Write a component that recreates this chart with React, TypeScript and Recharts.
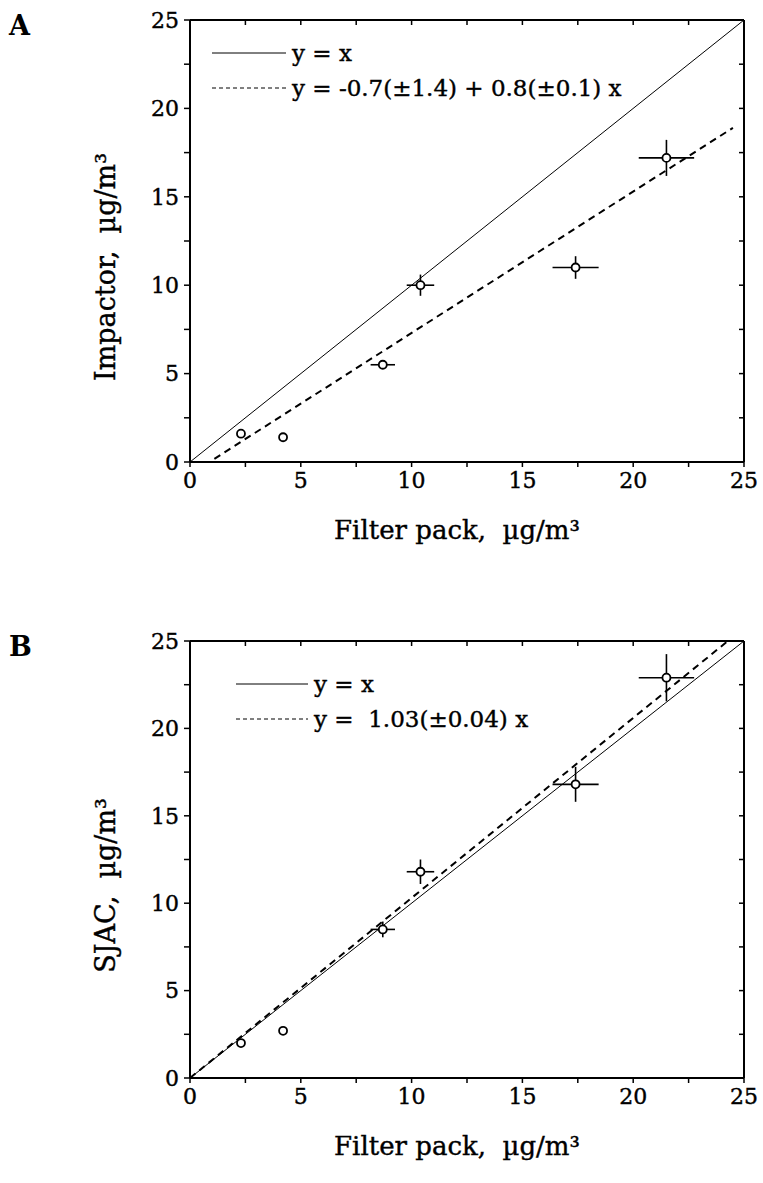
import {
  ScatterChart,
  Scatter,
  XAxis,
  YAxis,
  ErrorBar,
  Legend,
  Label,
  Customized,
} from "recharts";

// values (x = filter pack, shared by both panels)
const filterPack = [2.3, 4.2, 8.7, 10.4, 17.4, 21.5];
const filterPackErr = [0, 0, 0.55, 0.62, 1.04, 1.25];
const impactor = [1.6, 1.4, 5.5, 10.0, 11.0, 17.2];
const impactorErr = [0, 0, 0, 0.6, 0.64, 1.02];
const sjac = [2.0, 2.7, 8.5, 11.8, 16.8, 22.9];
const sjacErr = [0, 0, 0.45, 0.7, 1.0, 1.35];

const axisTicks = [0, 2.5, 5, 7.5, 10, 12.5, 15, 17.5, 20, 22.5, 25];
const tickLabels = ["0", "", "5", "", "10", "", "15", "", "20", "", "25"];

// regression lines as printed in the legends
const fitA = { intercept: -0.7, slope: 0.8, from: 1.1, to: 24.5 };
const fitB = { intercept: 0, slope: 1.03, from: 0, to: 24.27 };

const FONT = "DejaVu Serif";
const W = 763;

const fmtTick = (v: number) => tickLabels[axisTicks.indexOf(v)] ?? "";

const Ring = (p: any) => (
  <circle cx={p.cx} cy={p.cy} r={4} fill="#fff" stroke="#000" strokeWidth={1.8} />
);
const NoDot = () => <g />;

function Panel(props: {
  letter: string;
  yTitle: string;
  yValues: number[];
  yErrors: number[];
  fit: { intercept: number; slope: number; from: number; to: number };
  fitText: string;
  height: number;
  top: number;
  bottom: number;
  legendLeft: number;
  legendTop: number;
  sampleWidth: number;
}) {
  const { fit } = props;
  const points = filterPack.map((x, i) => ({
    x,
    y: props.yValues[i],
    ex: filterPackErr[i],
    ey: props.yErrors[i],
  }));
  const identity = [
    { x: 0, y: 0 },
    { x: 25, y: 25 },
  ];
  const fitLine = [fit.from, fit.to].map((x) => ({ x, y: fit.intercept + fit.slope * x }));

  const legendItems = [
    { text: "y = x", dash: undefined },
    { text: props.fitText, dash: "4 3" },
  ];

  const axisLine = { stroke: "#000", strokeWidth: 2 };
  const tickLine = { stroke: "#000", strokeWidth: 1.5 };
  const tick = { fill: "#000", fontSize: 22, fontFamily: FONT, stroke: "#000", strokeWidth: 0.4 };

  return (
    <ScatterChart
      width={W}
      height={props.height}
      margin={{ top: props.top - 1, right: 19, bottom: 0, left: 0 }}
    >
      <XAxis
        xAxisId="b"
        type="number"
        dataKey="x"
        domain={[0, 25]}
        ticks={axisTicks}
        tickFormatter={fmtTick}
        interval={0}
        height={props.bottom}
        axisLine={axisLine}
        tickLine={tickLine}
        tickSize={5}
        tickMargin={5}
        tick={tick}
      >
        <Label
          content={(lp: any) => {
            const vb = lp.viewBox;
            return (
              <text
                x={vb.x + vb.width / 2 - 10}
                y={vb.y + 68}
                textAnchor="middle"
                dominantBaseline="central"
                fontFamily={FONT}
                fontSize={26}
                fill="#000"
                stroke="#000"
                strokeWidth={0.4}
                style={{ whiteSpace: "pre" }}
              >
                {"Filter pack,  µg/m³"}
              </text>
            );
          }}
        />
      </XAxis>
      {/* frame: top and right axes with inward ticks, no labels */}
      <XAxis
        xAxisId="t"
        orientation="top"
        type="number"
        dataKey="x"
        domain={[0, 25]}
        ticks={axisTicks}
        interval={0}
        mirror
        height={1}
        axisLine={axisLine}
        tickLine={tickLine}
        tickSize={5}
        tickFormatter={() => ""}
      />
      <YAxis
        yAxisId="l"
        type="number"
        dataKey="y"
        domain={[0, 25]}
        ticks={axisTicks}
        tickFormatter={fmtTick}
        interval={0}
        width={190}
        axisLine={axisLine}
        tickLine={tickLine}
        tickSize={6}
        tickMargin={5}
        tick={tick}
      >
        <Label
          content={(lp: any) => {
            const vb = lp.viewBox;
            const cx = 105;
            const cy = vb.y + vb.height / 2 + 26;
            return (
              <text
                x={cx}
                y={cy}
                transform={`rotate(-90, ${cx}, ${cy})`}
                textAnchor="middle"
                dominantBaseline="central"
                fontFamily={FONT}
                fontSize={27}
                fill="#000"
                stroke="#000"
                strokeWidth={0.4}
                style={{ whiteSpace: "pre" }}
              >
                {props.yTitle}
              </text>
            );
          }}
        />
      </YAxis>
      <YAxis
        yAxisId="r"
        orientation="right"
        type="number"
        dataKey="y"
        domain={[0, 25]}
        ticks={axisTicks}
        interval={0}
        mirror
        width={1}
        axisLine={axisLine}
        tickLine={tickLine}
        tickSize={5}
        tickFormatter={() => ""}
      />

      {/* invisible series bound to the frame axes */}
      <Scatter
        xAxisId="t"
        yAxisId="r"
        data={identity}
        shape={NoDot}
        isAnimationActive={false}
      />
      <Scatter
        xAxisId="b"
        yAxisId="l"
        data={identity}
        line={{ stroke: "#000", strokeWidth: 1 }}
        shape={NoDot}
        isAnimationActive={false}
      />
      <Scatter
        xAxisId="b"
        yAxisId="l"
        data={fitLine}
        line={{ stroke: "#000", strokeWidth: 2, strokeDasharray: "7 5" }}
        shape={NoDot}
        isAnimationActive={false}
      />
      <Scatter
        xAxisId="b"
        yAxisId="l"
        data={points}
        shape={Ring}
        isAnimationActive={false}
      >
        <ErrorBar dataKey="ex" direction="x" width={0} stroke="#000" strokeWidth={1.6} />
        <ErrorBar dataKey="ey" direction="y" width={0} stroke="#000" strokeWidth={1.6} />
      </Scatter>

      <Legend
        layout="horizontal"
        verticalAlign="middle"
        align="center"
        wrapperStyle={{ left: props.legendLeft, top: props.legendTop, width: "auto" }}
        content={() => (
          <div
            style={{
              fontFamily: FONT,
              fontSize: 23,
              color: "#000",
              WebkitTextStroke: "0.4px #000",
            }}
          >
            {legendItems.map((it) => (
              <div key={it.text} style={{ display: "flex", alignItems: "center", height: 35 }}>
                <svg width={props.sampleWidth} height={4}>
                  <line
                    x1={0}
                    y1={2}
                    x2={props.sampleWidth}
                    y2={2}
                    stroke="#000"
                    strokeWidth={1}
                    strokeDasharray={it.dash}
                  />
                </svg>
                <span style={{ marginLeft: 6, whiteSpace: "pre" }}>{it.text}</span>
              </div>
            ))}
          </div>
        )}
      />

      <Customized
        component={() => (
          <text
            x={9}
            y={props.top + 4}
            dominantBaseline="central"
            fontFamily={FONT}
            fontWeight="bold"
            fontSize={27}
            fill="#000"
          >
            {props.letter}
          </text>
        )}
      />
    </ScatterChart>
  );
}

export default function App() {
  return (
    <div style={{ position: "absolute", left: 0, top: 0, width: W, background: "#fff" }}>
      <Panel
        letter="A"
        yTitle={"Impactor,  µg/m³"}
        yValues={impactor}
        yErrors={impactorErr}
        fit={fitA}
        fitText="y = -0.7(±1.4) + 0.8(±0.1) x"
        height={580}
        top={21}
        bottom={118}
        legendLeft={212}
        legendTop={35}
        sampleWidth={74}
      />
      <Panel
        letter="B"
        yTitle={"SJAC,  µg/m³"}
        yValues={sjac}
        yErrors={sjacErr}
        fit={fitB}
        fitText="y =  1.03(±0.04) x"
        height={603}
        top={62}
        bottom={105}
        legendLeft={236}
        legendTop={86}
        sampleWidth={72}
      />
    </div>
  );
}
